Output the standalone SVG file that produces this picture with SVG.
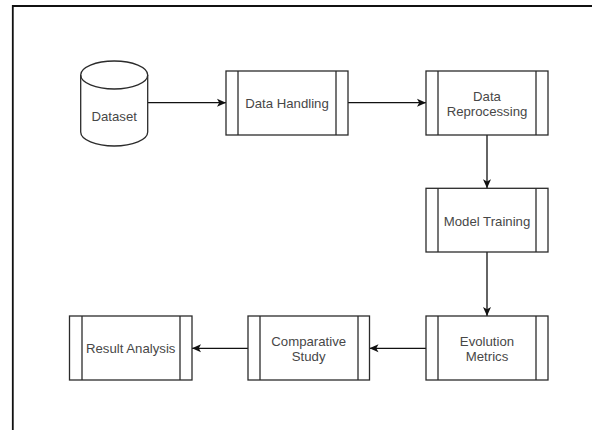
<svg xmlns="http://www.w3.org/2000/svg" width="592" height="430" viewBox="0 0 592 430">
  <style>
    .box { fill: #ffffff; stroke: #2b2b2b; stroke-width: 1.3; }
    .bar { stroke: #2b2b2b; stroke-width: 1.3; fill: none; }
    .lbl { font-family: "Liberation Sans", Arial, sans-serif; font-size: 13.2px; fill: #474747; text-anchor: middle; }
    .edge { stroke: #111111; stroke-width: 1.3; fill: none; marker-end: url(#arrow); }
  </style>
  <defs>
    <marker id="arrow" markerUnits="userSpaceOnUse" markerWidth="10" markerHeight="10" viewBox="0 0 10 10" refX="9" refY="5" orient="auto">
      <path d="M0,1 L9,5 L0,9 L2.2,5 Z" fill="#111111"/>
    </marker>
  </defs>
  <rect width="592" height="430" fill="#ffffff"/>
  <g id="frame">
    <path d="M12.8,430 L12.8,6 L592,6" fill="none" stroke="#111111" stroke-width="1.8"/>
  </g>

  <g id="connectors">
    <line class="edge" x1="147.5" y1="102.7" x2="226" y2="102.7"/>
    <line class="edge" x1="348" y1="102.7" x2="426" y2="102.7"/>
    <line class="edge" x1="487" y1="135" x2="487" y2="188.3"/>
    <line class="edge" x1="487" y1="252" x2="487" y2="316"/>
    <line class="edge" x1="426" y1="348.3" x2="369.5" y2="348.3"/>
    <line class="edge" x1="248" y1="348.3" x2="192" y2="348.3"/>
  </g>

  <g id="dataset">
    <path class="box" d="M80.7,75 A33.5,14 0 0 1 147.7,75 L147.7,132 A33.5,14 0 0 1 80.7,132 Z"/>
    <path class="bar" d="M80.7,75 A33.5,14 0 0 0 147.7,75"/>
    <text class="lbl" x="114.2" y="121.4">Dataset</text>
  </g>

  <g id="data-handling">
    <rect class="box" x="226" y="71" width="122" height="64"/>
    <line class="bar" x1="238" y1="71" x2="238" y2="135"/>
    <line class="bar" x1="336" y1="71" x2="336" y2="135"/>
    <text class="lbl" x="287" y="108">Data Handling</text>
  </g>

  <g id="data-reprocessing">
    <rect class="box" x="426" y="71" width="122" height="64"/>
    <line class="bar" x1="438" y1="71" x2="438" y2="135"/>
    <line class="bar" x1="536" y1="71" x2="536" y2="135"/>
    <text class="lbl" x="487" y="101.2">Data</text>
    <text class="lbl" x="487" y="115.6">Reprocessing</text>
  </g>

  <g id="model-training">
    <rect class="box" x="426" y="188.3" width="122" height="63.7"/>
    <line class="bar" x1="438" y1="188.3" x2="438" y2="252"/>
    <line class="bar" x1="536" y1="188.3" x2="536" y2="252"/>
    <text class="lbl" x="487" y="226">Model Training</text>
  </g>

  <g id="evolution-metrics">
    <rect class="box" x="426" y="316" width="122" height="64"/>
    <line class="bar" x1="438" y1="316" x2="438" y2="380"/>
    <line class="bar" x1="536" y1="316" x2="536" y2="380"/>
    <text class="lbl" x="487" y="346.2">Evolution</text>
    <text class="lbl" x="487" y="360.6">Metrics</text>
  </g>

  <g id="comparative-study">
    <rect class="box" x="248" y="316" width="121.5" height="64"/>
    <line class="bar" x1="260" y1="316" x2="260" y2="380"/>
    <line class="bar" x1="358" y1="316" x2="358" y2="380"/>
    <text class="lbl" x="308.7" y="346.2">Comparative</text>
    <text class="lbl" x="308.7" y="360.6">Study</text>
  </g>

  <g id="result-analysis">
    <rect class="box" x="69.5" y="316" width="122.5" height="64"/>
    <line class="bar" x1="82" y1="316" x2="82" y2="380"/>
    <line class="bar" x1="180" y1="316" x2="180" y2="380"/>
    <text class="lbl" x="130.7" y="353">Result Analysis</text>
  </g>
</svg>
